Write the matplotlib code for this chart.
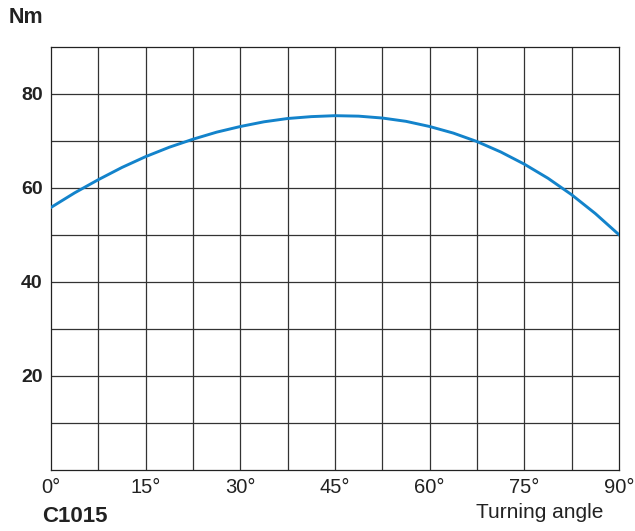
import matplotlib.pyplot as plt

# Torque curve (every 3.75 degrees)
angle = [0, 3.75, 7.5, 11.25, 15, 18.75, 22.5, 26.25, 30, 33.75, 37.5, 41.25, 45,
         48.75, 52.5, 56.25, 60, 63.75, 67.5, 71.25, 75, 78.75, 82.5, 86.25, 90]
torque = [55.8, 58.9, 61.7, 64.3, 66.6, 68.6, 70.3, 71.8, 73.0, 74.0, 74.7, 75.1, 75.3,
          75.2, 74.8, 74.1, 73.0, 71.6, 69.8, 67.6, 65.0, 62.0, 58.5, 54.5, 50.0]

x_ticks = [0, 15, 30, 45, 60, 75, 90]
x_labels = ["0°", "15°", "30°", "45°", "60°", "75°", "90°"]
y_ticks = [20, 40, 60, 80]

plt.rcParams["font.family"] = ["Liberation Sans", "DejaVu Sans"]

fig = plt.figure(figsize=(6.35, 5.31), dpi=100)
ax = fig.add_axes([0.0803, 0.1149, 0.8945, 0.7975])

# Grid: 7.5 deg columns, 10 Nm rows
for gx in [i * 7.5 for i in range(1, 12)]:
    ax.axvline(gx, color="#333333", lw=0.9, zorder=1)
for gy in range(10, 90, 10):
    ax.axhline(gy, color="#333333", lw=0.9, zorder=1)

ax.plot(angle, torque, color="#1383cb", lw=2.1, zorder=3)

ax.set_xlim(0, 90)
ax.set_ylim(0, 90)
for s in ax.spines.values():
    s.set_color("#222222")
    s.set_linewidth(0.9)

ax.set_xticks(x_ticks)
ax.set_xticklabels(x_labels, fontsize=14.5, color="#222222")
ax.set_yticks(y_ticks)
ax.set_yticklabels([str(v) for v in y_ticks], fontsize=14, fontweight="bold", color="#222222")
ax.tick_params(length=0)
ax.tick_params(axis="y", pad=6)
ax.tick_params(axis="x", pad=6)

fig.text(0.013, 0.956, "Nm", fontsize=15.5, fontweight="heavy", color="#222222", va="baseline")
fig.text(0.067, 0.017, "C1015", fontsize=16, fontweight="bold", color="#222222", va="baseline")
fig.text(0.9504, 0.0245, "Turning angle", fontsize=15, color="#222222", va="baseline", ha="right")

fig.savefig("out.png", dpi=100)
